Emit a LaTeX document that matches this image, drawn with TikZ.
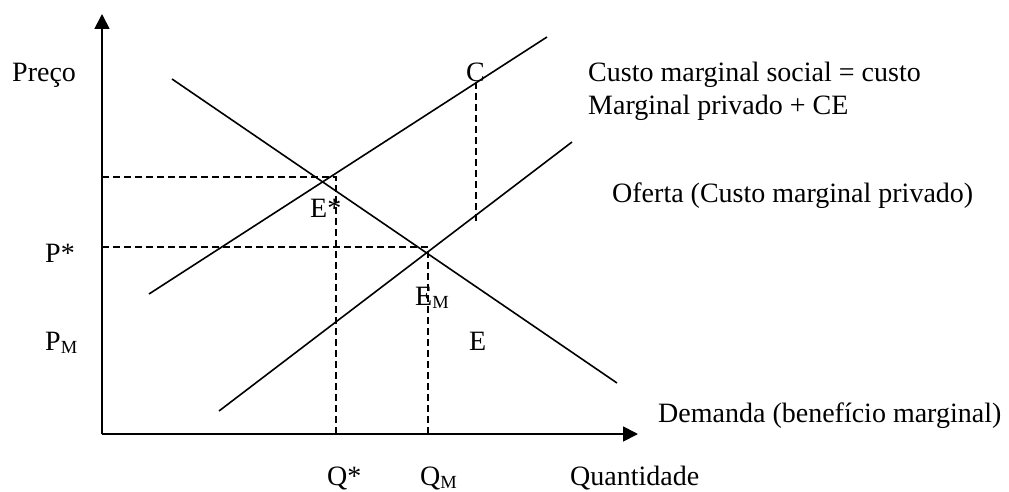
\documentclass[tikz,border=0pt]{standalone}
\usepackage{fontspec}
\setmainfont{Liberation Serif}
\usetikzlibrary{arrows.meta}
\newcommand\subM{\raisebox{-0.12em}{\fontsize{18.5}{18.5}\selectfont M}}
\begin{document}
\begin{tikzpicture}[x=1pt,y=-1pt,
  curve/.style={line width=1.6pt},
  axis/.style={line width=1.8pt,-{Triangle[length=15pt,width=15pt]}},
  guide/.style={line width=1.6pt,dash pattern=on 7pt off 4pt},
  lbl/.style={anchor=base west,inner sep=0pt,font=\fontsize{28}{32}\selectfont}]
\useasboundingbox (0,0) rectangle (1009,492);
% axes
\coordinate (O) at (102,434);
\coordinate (Ytop) at (102,14);
\coordinate (Xend) at (638,434);
\draw[axis] (O) -- (Ytop);
\draw[axis] (O) -- (Xend);
% curves
\coordinate (D1) at (172,79);  \coordinate (D2) at (617,383);
\coordinate (S1) at (149,294); \coordinate (S2) at (547,37);
\coordinate (P1) at (219,411); \coordinate (P2) at (572,142);
\draw[curve] (D1) -- (D2);
\draw[curve] (S1) -- (S2);
\draw[curve] (P1) -- (P2);
% guides
\coordinate (H1a) at (102,177); \coordinate (H1b) at (336,177); \coordinate (V1b) at (336,434);
\coordinate (H2a) at (102,247); \coordinate (H2b) at (428,247); \coordinate (V2b) at (428,434);
\coordinate (C1) at (476,82);   \coordinate (C2) at (476,224);
\draw[guide] (H1a) -- (H1b) -- (V1b);
\draw[guide] (H2a) -- (H2b) -- (V2b);
\draw[guide] (C1) -- (C2);
% labels
\node[lbl] (preco) at (12,82) {Preço};
\node[lbl] (cl) at (466,82) {C};
\node[lbl] (cms1) at (588,82) {Custo marginal social = custo};
\node[lbl] (cms2) at (588,115) {Marginal privado + CE};
\node[lbl] (oferta) at (612,202) {Oferta (Custo marginal privado)};
\node[lbl] (estar) at (310,217) {E*};
\node[lbl] (pstar) at (45,262) {P*};
\node[lbl] (em) at (415,305) {E\subM};
\node[lbl] (pm) at (45,350) {P\subM};
\node[lbl] (e) at (469,350) {E};
\node[lbl] (dem) at (658,422) {Demanda (benefício marginal)};
\node[lbl] (qstar) at (327,485) {Q*};
\node[lbl] (qm) at (420,485) {Q\subM};
\node[lbl] (quant) at (570,485) {Quantidade};
\end{tikzpicture}
\end{document}
